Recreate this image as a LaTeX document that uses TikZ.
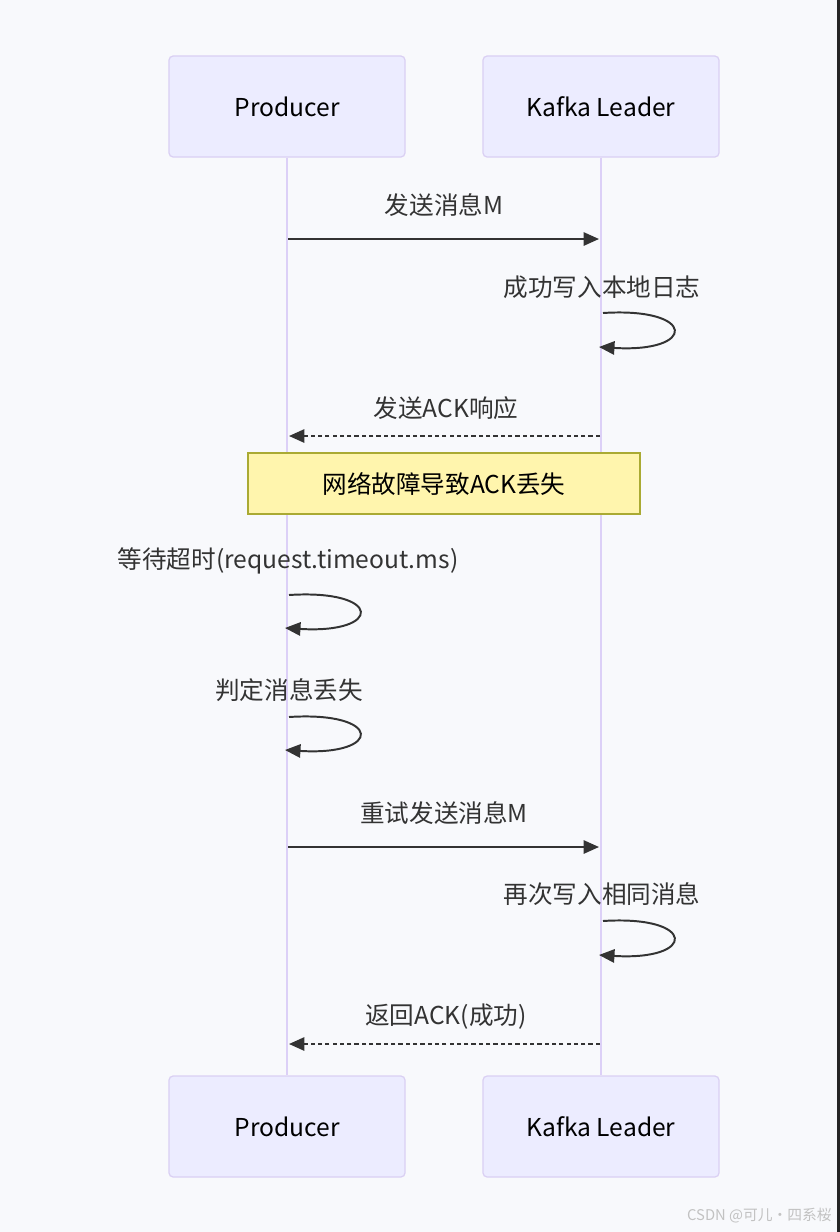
\documentclass[tikz,border=0pt]{standalone}
\usepackage{fontspec}
\setmainfont{Noto Sans CJK SC}
\usetikzlibrary{arrows.meta, positioning}
\definecolor{canvasbg}{HTML}{F8F9FC}
\definecolor{actorfill}{HTML}{ECECFF}
\definecolor{actorline}{HTML}{DAD0F3}
\definecolor{lifepurple}{HTML}{DCD0F7}
\definecolor{notefill}{HTML}{FFF5AD}
\definecolor{noteline}{HTML}{AAAA33}
\definecolor{msgdark}{HTML}{333333}
\definecolor{marktext}{HTML}{C2C2C2}
\definecolor{edgedark}{HTML}{252525}
\tikzset{
  % Participant boxes (top and bottom)
  actor/.style={
    draw=actorline, fill=actorfill, rounded corners=3pt,
    minimum width=5.9cm, minimum height=2.525cm,
    font=\fontsize{17.5}{21}\selectfont, text=black,
    inner sep=0pt, line width=0.9pt,
  },
  % Vertical lifelines
  lifeline/.style={draw=lifepurple, line width=2.1pt},
  % Note across both lifelines
  notebox/.style={
    draw=noteline, fill=notefill,
    minimum width=9.8cm, minimum height=1.525cm,
    font=\fontsize{17.5}{21}\selectfont, text=black,
    inner sep=0pt, line width=0.9pt,
  },
  % Message labels
  msgtext/.style={font=\fontsize{17.5}{21}\selectfont, text=msgdark, inner sep=0pt},
  % Arrows
  call/.style={-{Triangle[length=11pt, width=9.5pt]}, line width=1.4pt, msgdark},
  reply/.style={call, dash pattern=on 3pt off 2.2pt},
  watermark/.style={font=\fontsize{10.5}{12}\selectfont, text=marktext, inner sep=0pt},
}
\begin{document}
\begin{tikzpicture}[x=0.025cm, y=-0.025cm]
  \fill[canvasbg] (0,0) rectangle (840,1232);
  \useasboundingbox (0,0) rectangle (840,1232);
  \fill[edgedark] (837,0) rectangle (840,1232);

  % participants
  \node[actor] (prodtop) at (287,106.5) {Producer};
  \node[actor] (kafkatop) at (601,106.5) {Kafka Leader};
  \node[actor] (prodbot) at (287,1126.5) {Producer};
  \node[actor] (kafkabot) at (601,1126.5) {Kafka Leader};
  \draw[lifeline] (prodtop.south) -- (prodbot.north);
  \draw[lifeline] (kafkatop.south) -- (kafkabot.north);

  % send M
  \coordinate (p1) at (288,239);
  \coordinate (k1) at (599,239);
  \node[msgtext] (sendlbl) at (444,205) {发送消息M};
  \draw[call] (p1) -- (k1);

  % write local log
  \coordinate (k2a) at (603,313);
  \coordinate (k2b) at (599,347);
  \node[msgtext] (writelbl) at (602,287) {成功写入本地日志};
  \draw[call] (k2a) .. controls (697,307) and (697,353) .. (k2b);

  % ACK reply
  \coordinate (k3) at (600,436);
  \coordinate (p3) at (289,436);
  \node[msgtext] (acklbl) at (446,408) {发送ACK响应};
  \draw[reply] (k3) -- (p3);

  \node[notebox] (lossnote) at (444,483.5) {网络故障导致ACK丢失};

  % timeout
  \coordinate (p4a) at (289,595);
  \coordinate (p4b) at (285,628);
  \node[msgtext] (waitlbl) at (288,561) {等待超时(request.timeout.ms)};
  \draw[call] (p4a) .. controls (383,589) and (383,634) .. (p4b);

  % judge lost
  \coordinate (p5a) at (289,717);
  \coordinate (p5b) at (285,750);
  \node[msgtext] (judgelbl) at (289,690) {判定消息丢失};
  \draw[call] (p5a) .. controls (383,711) and (383,756) .. (p5b);

  % retry
  \coordinate (p6) at (288,847);
  \coordinate (k6) at (599,847);
  \node[msgtext] (retrylbl) at (444,813) {重试发送消息M};
  \draw[call] (p6) -- (k6);

  % write again
  \coordinate (k7a) at (603,921);
  \coordinate (k7b) at (599,955);
  \node[msgtext] (againlbl) at (602,894) {再次写入相同消息};
  \draw[call] (k7a) .. controls (697,915) and (697,961) .. (k7b);

  % ACK ok
  \coordinate (k8) at (600,1044);
  \coordinate (p8) at (289,1044);
  \node[msgtext] (oklbl) at (446,1017) {返回ACK(成功)};
  \draw[reply] (k8) -- (p8);

  \node[watermark, anchor=east] (mark) at (832,1216) {CSDN @可儿·四系桜};
\end{tikzpicture}
\end{document}
